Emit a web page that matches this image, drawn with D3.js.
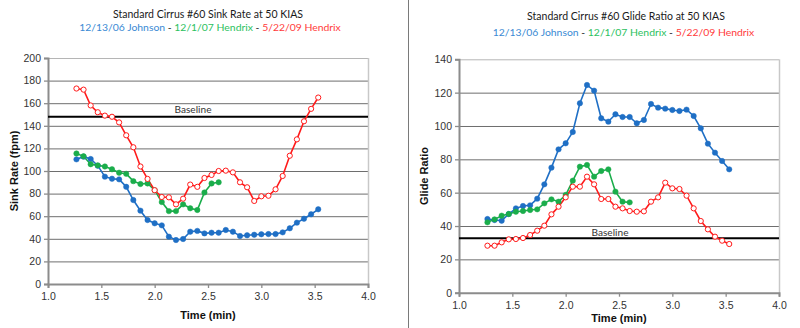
<!DOCTYPE html>
<html><head><meta charset="utf-8">
<script src="https://cdn.jsdelivr.net/npm/d3@7"></script>
<style>body{margin:0;background:#fff}svg{display:block}</style>
</head><body><svg id="c" width="800" height="328"></svg>
<script>
// ---- data ----
const startTime = 76/60, stepTime = 4/60; // minutes
const sinkJohnson = [110.3,112.7,110.6,104.7,95,93.2,92.6,86,74.3,64.9,56.6,53.7,51.9,41.9,38.9,39.8,46.3,47,44.8,45.4,45.4,47.8,46.3,42.5,43.1,43.6,44,44.2,44.2,45.7,49.3,54.3,57.8,61.7,66.1];
const sinkHendrix07 = [115.5,113,106,105,104,101.5,98.5,97.5,91,88.5,89,83,72.5,64.5,64.5,70.5,67,65.5,81,89,90];
const sinkHendrix09 = [173,172,158,152,149,148,143,131.6,121,104,93,83,77,76.7,70.5,75.5,88,86,93.8,96.5,100,100.3,98.8,90,85.6,73.5,77.6,78.1,83.8,95.6,113.5,128,144,155,165];
const glideJohnson = [44.2,43.6,43.2,47.2,50.6,52,52.4,56.4,65,75,86,89.6,96.4,113.6,124.6,121.2,104.6,102.6,107,105.4,105.4,101.6,103.6,113.2,111,110.4,109.6,109,109.8,106,98.6,89.4,84,79,74];
const glideHendrix07 = [42.2,44,46.2,47.2,48.6,49,49.6,50,53.6,56,54.6,58.6,67.2,75.6,76.6,69.6,73,74,60.6,54.6,54.2];
const glideHendrix09 = [28.2,28.2,30.2,32,32.2,32.8,34.6,37.2,40.2,47,51.6,57.2,63.6,63.6,69.6,65,56.2,56.2,51.6,50.6,49,48.6,48.8,54.6,57.2,66,62.6,62.2,58.2,50.6,43,38,33.6,31.2,29.2];
const sinkBaseline = 148, glideBaseline = 32.6;
const xTicks = [1.0,1.5,2.0,2.5,3.0,3.5,4.0];
const sinkTicks = [0,20,40,60,80,100,120,140,160,180,200];
const glideTicks = [0,20,40,60,80,100,120,140];
const seriesNames = ["12/13/06 Johnson","12/1/07 Hendrix","5/22/09 Hendrix"];
const lineColors = ["#1f6fc5","#1aad4b","#ff1a1a"];
const textColors = ["#3a8ad4","#2bc160","#ff3b3b"];

const svg = d3.select("#c");
const F = "Lato, 'Open Sans', sans-serif";
const A = "'Liberation Sans', Arial, sans-serif";

function fit(sel, target){
  const w = sel.node().getComputedTextLength();
  const fs = +sel.attr("font-size");
  if (w > 0) sel.attr("font-size", (fs*target/w).toFixed(2));
}

function chart(opt){
  const g = svg.append("g");
  const x = d3.scaleLinear().domain([1,4]).range([opt.x0,opt.x1]);
  const y = d3.scaleLinear().domain([0,opt.ymax]).range([opt.y0,opt.y1]);
  g.selectAll(".grid").data(opt.yTicks.filter(v=>v>0)).enter().append("line")
    .attr("x1",opt.x0).attr("x2",opt.x1).attr("y1",d=>y(d)+0.5).attr("y2",d=>y(d)+0.5)
    .attr("stroke",d=>d===opt.ymax?"#b5b5b5":"#6e6e6e").attr("stroke-width",1);
  g.append("line").attr("x1",opt.x1+0.5).attr("x2",opt.x1+0.5).attr("y1",opt.y1).attr("y2",opt.y0)
    .attr("stroke","#c8c8c8").attr("stroke-width",1.5);
  const ya = g.append("g").attr("transform",`translate(${opt.x0},0)`)
    .call(d3.axisLeft(y).tickValues(opt.yTicks).tickSize(4).tickFormat(d3.format("d")));
  const xa = g.append("g").attr("transform",`translate(0,${opt.y0})`)
    .call(d3.axisBottom(x).tickValues(xTicks).tickSize(4).tickFormat(d3.format(".1f")));
  [ya,xa].forEach(a=>{
    a.select(".domain").attr("stroke","#8c8c8c").attr("stroke-width",2);
    a.selectAll(".tick line").attr("stroke","#8c8c8c").attr("stroke-width",1.3);
    a.selectAll("text").attr("font-family",A).attr("font-size",10.5).attr("fill","#333");
  });
  ya.selectAll("text").attr("x",-7);
  xa.selectAll("text").attr("y",opt.xLabelDy);
  g.append("line").attr("x1",opt.x0).attr("x2",opt.x1).attr("y1",y(opt.base)).attr("y2",y(opt.base))
    .attr("stroke","#000").attr("stroke-width",2);
  const bl = g.append("text").attr("x",opt.baseLabelX).attr("y",y(opt.base)+opt.baseLabelDy).attr("text-anchor","middle")
    .attr("font-family",F).attr("font-size",11).attr("fill","#333").text("Baseline");
  fit(bl, 37);
  const line = d3.line().x((d,i)=>x(startTime+i*stepTime)).y(d=>y(d));
  opt.series.forEach((s,si)=>{
    g.append("path").datum(s).attr("d",line).attr("fill","none")
      .attr("stroke",lineColors[si]).attr("stroke-width",1.6);
  });
  opt.series.forEach((s,si)=>{
    g.selectAll(null).data(s).enter().append("circle")
      .attr("cx",(d,i)=>x(startTime+i*stepTime)).attr("cy",d=>y(d))
      .attr("r",si===2?2.6:2.7)
      .attr("fill",si===2?"#fff":lineColors[si])
      .attr("stroke",lineColors[si]).attr("stroke-width",si===2?1:0.5);
  });
  const t = g.append("text").attr("x",opt.titleX).attr("y",opt.titleY).attr("text-anchor","middle")
    .attr("font-family",F).attr("font-size",12).attr("fill","#1a1a1a").text(opt.title);
  fit(t, opt.titleW);
  const st = g.append("text").attr("x",opt.subX).attr("y",opt.subY).attr("text-anchor","middle")
    .attr("font-family",F).attr("font-size",12);
  seriesNames.forEach((n,i)=>{
    if(i>0) st.append("tspan").attr("fill","#111").text(" - ");
    st.append("tspan").attr("fill",textColors[i]).text(n);
  });
  fit(st, opt.subW);
  g.append("text").attr("x",(opt.x0+opt.x1)/2).attr("y",opt.xTitleY).attr("text-anchor","middle")
    .attr("font-family",A).attr("font-weight","bold").attr("font-size",11).attr("fill","#111").text("Time (min)");
  g.append("text").attr("transform",`translate(${opt.yTitleX},${(opt.y0+opt.y1)/2}) rotate(-90)`)
    .attr("text-anchor","middle").attr("font-family",A).attr("font-weight","bold").attr("font-size",11)
    .attr("fill","#111").text(opt.yTitle);
}

chart({x0:48,x1:368,y0:284,y1:58,ymax:200,yTicks:sinkTicks,base:sinkBaseline,
  series:[sinkJohnson,sinkHendrix07,sinkHendrix09],baseLabelX:193,baseLabelDy:-4,
  title:"Standard Cirrus #60 Sink Rate at 50 KIAS",titleX:208,titleY:18,titleW:190,
  subX:210,subY:31,subW:262,
  xLabelDy:9,xTitleY:319,yTitleX:18,yTitle:"Sink Rate (fpm)"});
chart({x0:459,x1:779,y0:292.7,y1:59.3,ymax:140,yTicks:glideTicks,base:glideBaseline,
  series:[glideJohnson,glideHendrix07,glideHendrix09],baseLabelX:610,baseLabelDy:-2,
  title:"Standard Cirrus #60 Glide Ratio at 50 KIAS",titleX:626,titleY:20,titleW:198,
  subX:623.5,subY:36,subW:262,
  xLabelDy:9,xTitleY:322,yTitleX:428,yTitle:"Glide Ratio"});
svg.append("line").attr("x1",408.5).attr("x2",408.5).attr("y1",0).attr("y2",328).attr("stroke","#7a7a7a").attr("stroke-width",1);
</script></body></html>
